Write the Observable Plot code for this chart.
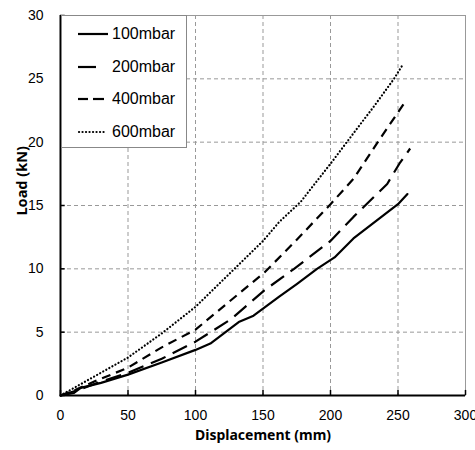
<!DOCTYPE html>
<html><head><meta charset="utf-8">
<script src="https://cdn.jsdelivr.net/npm/d3@7"></script>
<script src="https://cdn.jsdelivr.net/npm/@observablehq/plot@0.6"></script>
<style>
body{margin:0;background:#fff;}
#wrap{position:relative;width:475px;height:450px;}
#legend{position:absolute;left:61px;top:15px;width:126px;height:133px;background:#fff;border:1px solid #888;box-sizing:border-box;font-family:"Liberation Sans",Arial,sans-serif;font-size:16px;color:#000;}
.item{position:absolute;left:0;height:20px;display:flex;align-items:center;}
.item svg{margin-left:15px;}
.item span{margin-left:3px;}
</style>
</head><body>
<div id="wrap"><div id="chart"></div><div id="legend"></div></div>
<script>
const seriesNames = ["100mbar","200mbar","400mbar","600mbar"];
const s100 = [[0,0],[10,0.2],[15,0.6],[30,1.0],[50,1.65],[75,2.6],[100,3.6],[111,4.1],[132,5.8],[143,6.3],[162,7.8],[175,8.8],[190,10.0],[203,10.9],[217,12.4],[250,15.1],[257,15.9]];
const s200 = [[0,0],[15,0.5],[30,1.1],[50,1.8],[75,2.9],[100,4.25],[126,6.0],[151,8.3],[173,10.0],[200,12.2],[217,14.1],[242,16.7],[251,18.3],[259,19.5]];
const s400 = [[0,0],[10,0.4],[25,1.1],[50,2.2],[75,3.8],[100,5.2],[126,7.5],[151,9.7],[175,12.3],[200,15.1],[217,17.1],[235,20.0],[249,22.2],[256,23.3]];
const s600 = [[0,0],[10,0.6],[25,1.5],[50,3.0],[75,4.9],[100,7.0],[125,9.6],[150,12.2],[162,13.7],[178,15.3],[200,18.3],[217,20.7],[232,22.8],[247,25.0],[254,26.2]];
const xTicks = [0,50,100,150,200,250,300];
const yTicks = [0,5,10,15,20,25,30];
const xTitle = "Displacement (mm)";
const yTitle = "Load (kN)";

const allSeries = [s100,s200,s400,s600];
const dashes = [null,"16,8","9,6","0.1,3.4"];
const caps = ["round","butt","butt","round"];
const widths = [2.2,2.2,2.2,2.2];

const rows = allSeries.map((s,i)=>s.map(([x,y])=>({x,y,series:seriesNames[i]})));

const titleFont = "'Noto Sans', 'DejaVu Sans', sans-serif";
const chart = Plot.plot({
  width:475, height:450,
  marginLeft:60, marginRight:10, marginTop:15, marginBottom:55,
  style:{fontFamily:"'Liberation Sans', Arial, sans-serif", fontSize:"14px", color:"#000", background:"#fff"},
  x:{type:"linear", domain:[0,300]},
  y:{type:"linear", domain:[0,30]},
  marks:[
    Plot.gridX(xTicks.slice(1), {stroke:"#999", strokeOpacity:1, strokeDasharray:"4,3"}),
    Plot.gridY(yTicks.slice(1), {stroke:"#999", strokeOpacity:1, strokeDasharray:"4,3"}),
    Plot.frame({stroke:"#999"}),
    ...rows.map((r,i)=>Plot.line(r,{x:"x",y:"y",stroke:"#000",strokeWidth:widths[i],strokeDasharray:dashes[i],strokeLinecap:caps[i]})),
    Plot.ruleX([0],{stroke:"#000",strokeWidth:2}),
    Plot.ruleY([0],{stroke:"#000",strokeWidth:2}),
    Plot.ruleX(xTicks,{x:d=>d, y1:0, y2:0.4, stroke:"#000", strokeWidth:1.5}),
    Plot.ruleY(yTicks,{y:d=>d, x1:0, x2:3.5, stroke:"#000", strokeWidth:1.5}),
    Plot.axisX({ticks:xTicks, tickSize:0, tickPadding:15, label:null, fontSize:14}),
    Plot.axisY({ticks:yTicks, tickSize:0, tickPadding:17, label:null, fontSize:14}),
    Plot.text([xTitle],{frameAnchor:"bottom", dy:44, fontWeight:"bold", fontSize:14, fontFamily:titleFont}),
    Plot.text([yTitle],{frameAnchor:"left", dx:-38, dy:10, rotate:-90, fontWeight:"bold", fontSize:14.5, fontFamily:titleFont})
  ]
});
document.getElementById("chart").appendChild(chart);

// legend
const legend = d3.select("#legend");
const ys = [8,41,73,106];
const samples = [[[1,31]],[[1,19]],[[1,11],[16,27]],[[2,28]]];
seriesNames.forEach((name,i)=>{
  const it = legend.append("div").attr("class","item").style("top",ys[i]+"px");
  const sv = it.append("svg").attr("width",32).attr("height",20);
  samples[i].forEach(([a,b])=>{
    sv.append("line").attr("x1",a).attr("x2",b).attr("y1",10).attr("y2",10)
      .attr("stroke","#000").attr("stroke-width",2.2)
      .attr("stroke-linecap", i===3 ? "round" : "butt")
      .attr("stroke-dasharray", i===3 ? "0.1,3.4" : null);
  });
  it.append("span").text(name);
});
</script>
</body></html>
